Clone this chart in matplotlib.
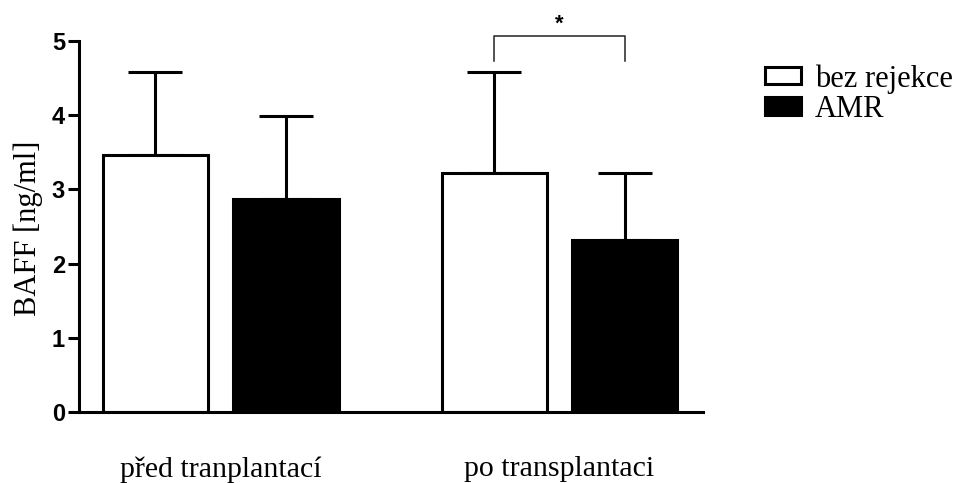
import matplotlib
matplotlib.use("Agg")
import matplotlib.pyplot as plt
from matplotlib.patches import Patch

# data
groups = ["před tranplantací", "po transplantaci"]
series = ["bez rejekce", "AMR"]
means_bez = [3.47, 3.22]
means_amr = [2.87, 2.32]
sd_bez = [1.11, 1.36]
sd_amr = [1.12, 0.90]
y_ticks = [0, 1, 2, 3, 4, 5]

serif = "Liberation Serif"
sans = "Liberation Sans"

fig = plt.figure(figsize=(9.62, 4.83), dpi=100)
ax = fig.add_axes([79 / 962, 71 / 483, 624 / 962, 371 / 483])

lw = 2.2
group_pos = [0.5, 3.094]
offset = 0.5
width = 0.805
x_bez = [g - offset for g in group_pos]
x_amr = [g + offset for g in group_pos]

ax.bar(x_bez, means_bez, width, color="white", edgecolor="black", linewidth=lw, zorder=2)
ax.bar(x_amr, means_amr, width, color="black", edgecolor="black", linewidth=lw, zorder=2)
ax.errorbar(x_bez, means_bez, yerr=[[0, 0], sd_bez], fmt="none", ecolor="black",
            elinewidth=lw, capsize=19.4, capthick=lw, zorder=1)
ax.errorbar(x_amr, means_amr, yerr=[[0, 0], sd_amr], fmt="none", ecolor="black",
            elinewidth=lw, capsize=19.4, capthick=lw, zorder=1)

# significance bracket between the two "po transplantaci" bars
bx = [x_bez[1], x_bez[1], x_amr[1], x_amr[1]]
by = [4.73, 5.07, 5.07, 4.73]
ax.plot(bx, by, color="#222222", linewidth=1.1, clip_on=False)
ax.text((x_bez[1] + x_amr[1]) / 2, 5.22, "*", ha="center", va="center",
        fontsize=16, fontfamily=sans, fontweight="bold")

ax.set_xlim(-0.586, 4.195)
ax.set_ylim(0, 5)
ax.set_yticks(y_ticks)
ax.set_yticklabels([str(t) for t in y_ticks], fontfamily=sans, fontweight="bold", fontsize=17)
ax.set_xticks(group_pos)
ax.set_xticklabels(groups, fontfamily=serif, fontsize=21.5)
ax.tick_params(axis="x", length=0, pad=32)
ax.tick_params(axis="y", length=8, width=lw, pad=2)
for s in ["top", "right"]:
    ax.spines[s].set_visible(False)
for s in ["left", "bottom"]:
    ax.spines[s].set_linewidth(lw)

fig.text(28 / 962, 1 - 228 / 483, "BAFF [ng/ml]", rotation=90, ha="center", va="center",
         fontfamily=serif, fontsize=22)

handles = [Patch(facecolor="white", edgecolor="black", linewidth=lw),
           Patch(facecolor="black", edgecolor="black", linewidth=lw)]
fig.legend(handles, series, loc="upper left", bbox_to_anchor=(765 / 962, 1 - 64 / 483),
           frameon=False, prop={"family": serif, "size": 22}, handlelength=1.18,
           handleheight=0.5, handletextpad=0.46, labelspacing=0.05, borderpad=0,
           borderaxespad=0)

fig.savefig("out.png", dpi=100)
